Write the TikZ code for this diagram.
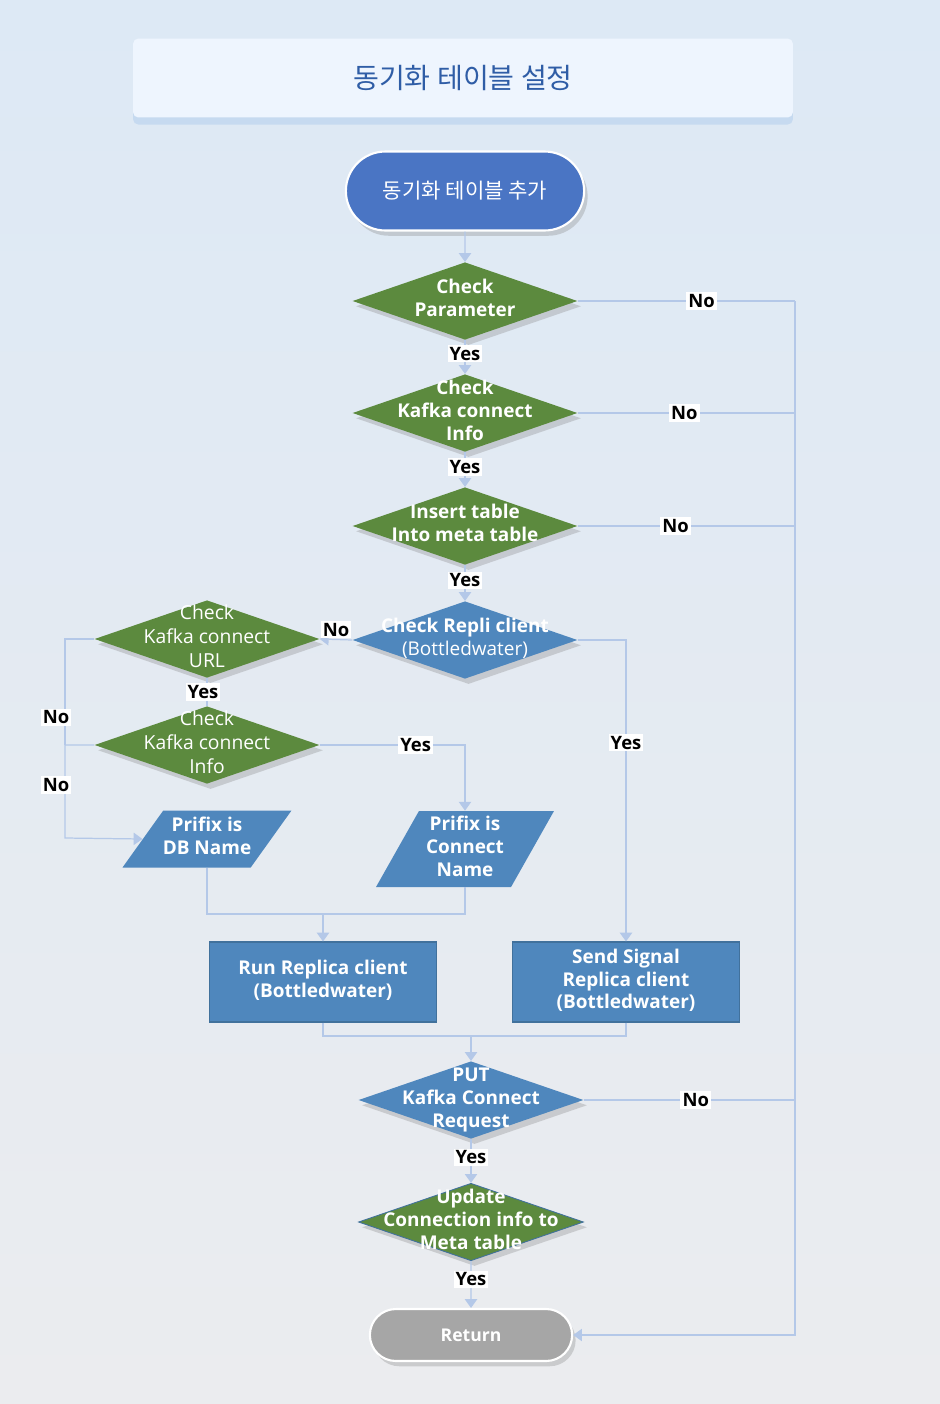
\documentclass[tikz,border=0pt]{standalone}
\usepackage{fontspec}
\setmainfont{Open Sans}
\newfontfamily\kr{Noto Sans CJK KR}
\usetikzlibrary{shapes.geometric, shapes.misc, shadows, arrows.meta}

\definecolor{bgtop}{HTML}{DDE9F5}
\definecolor{bgbot}{HTML}{EBECEF}
\definecolor{flow}{HTML}{B4C8E8}
\definecolor{grn}{HTML}{5C8A3E}
\definecolor{blu}{HTML}{4F87BD}
\definecolor{bluedge}{HTML}{41719C}
\definecolor{startblue}{HTML}{4A75C4}
\definecolor{retgrey}{HTML}{A6A6A6}
\definecolor{titlefill}{HTML}{EEF5FE}
\definecolor{titleshadow}{HTML}{C6DAF0}
\definecolor{titletext}{HTML}{2F5DA6}

% text that may run over the edge of its shape
\newcommand{\dtxt}[1]{\smash{\makebox[0pt]{\raisebox{-2.5pt}{\begin{tabular}{@{}c@{}}#1\end{tabular}}}}}
% same, with a small body so the trapezium can be sized
\newcommand{\ptxt}[1]{\makebox[2pt]{\dtxt{#1}}\phantom{\rule[-1pt]{0pt}{2pt}}}

\begin{document}
\begin{tikzpicture}[x=0.02cm, y=-0.02cm,
    flowline/.style = {draw=flow, line width=0.7pt},
    arr/.style = {flowline, -{Triangle[width=7pt, length=5pt]}},
    lab/.style = {fill=white, text=black, inner sep=1.2pt, font=\bfseries\fontsize{10.5}{12}\selectfont},
    titlebox/.style = {rectangle, rounded corners=3pt, fill=titlefill, minimum width=13.2cm, minimum height=1.58cm, text=titletext, font=\fontsize{16}{19}\selectfont, drop shadow={shadow xshift=0pt, shadow yshift=-4pt, fill=titleshadow, opacity=1}},
    term/.style = {rounded rectangle, draw=white, line width=1.2pt, text=white, drop shadow={shadow xshift=2pt, shadow yshift=-3pt, opacity=.3}},
    dec/.style = {diamond, minimum width=4.5cm, minimum height=1.55cm, inner sep=0pt, text=white, font=\bfseries\fontsize{10.8}{13.2}\selectfont, drop shadow={shadow xshift=2pt, shadow yshift=-3pt, opacity=.3}},
    gdec/.style = {dec, fill=grn},
    bdec/.style = {dec, fill=blu},
    lgdec/.style = {gdec, font=\fontsize{11}{13.5}\selectfont},
    io/.style = {trapezium, trapezium left angle=65, trapezium right angle=115, trapezium stretches=true, inner sep=0pt, fill=blu, text=white, font=\bfseries\fontsize{10.8}{13}\selectfont},
    proc/.style = {rectangle, fill=blu, draw=bluedge, line width=0.6pt, minimum width=4.54cm, minimum height=1.6cm, inner sep=0pt, text=white, font=\bfseries\fontsize{10.8}{12.8}\selectfont}]

    \shade[top color=bgtop, bottom color=bgbot] (0,0) rectangle (940,1404);
    \useasboundingbox (0,0) rectangle (940,1404);

    \node[titlebox] (title) at (463,78) {\kr 동기화 테이블 설정};
    \node[term, fill=startblue, minimum width=5cm, minimum height=1.58cm, font=\fontsize{12}{14}\selectfont] (start) at (465,191) {\kr 동기화 테이블 추가};

    \node[gdec] (par) at (465,301) {\dtxt{Check\\Parameter}};
    \node[gdec] (kinfo) at (465,413) {\dtxt{Check\\Kafka connect\\Info}};
    \node[gdec] (meta) at (465,526) {\dtxt{Insert table\\Into meta table}};
    \node[bdec] (repli) at (465,640) {\dtxt{Check Repli client\\\mdseries(Bottledwater)}};
    \node[lgdec] (kurl) at (207,639) {\dtxt{Check\\Kafka connect\\URL}};
    \node[lgdec] (kinfo2) at (207,745) {\dtxt{Check\\Kafka connect\\Info}};

    \node[io, minimum width=3.38cm, minimum height=1.14cm] (dbname) at (207,839) {\ptxt{Prifix is\\DB Name}};
    \node[io, minimum width=3.56cm, minimum height=1.52cm] (cname) at (465,849) {\ptxt{Prifix is\\Connect\\Name}};

    \node[proc] (run) at (323,982) {\dtxt{Run Replica client\\(Bottledwater)}};
    \node[proc] (signal) at (626,982) {\dtxt{Send Signal\\Replica client\\(Bottledwater)}};

    \node[bdec] (put) at (471,1100) {\dtxt{PUT\\Kafka Connect\\Request}};
    \node[gdec, draw=bluedge, line width=0.5pt] (update) at (471,1222) {\dtxt{Update\\Connection info to\\Meta table}};
    \node[term, fill=retgrey, minimum width=4.28cm, minimum height=1.04cm, font=\bfseries\fontsize{10}{12}\selectfont] (ret) at (471,1335) {Return};

    \coordinate (rb1) at (795,301);
    \coordinate (rb2) at (795,413);
    \coordinate (rb3) at (795,526);
    \coordinate (rb4) at (795,1100);
    \coordinate (rb5) at (795,1335);
    \coordinate (lb1) at (65,639);
    \coordinate (lb2) at (65,745);
    \coordinate (lb3) at (65,838);
    \coordinate (mj1) at (323,914);
    \coordinate (mj2) at (471,1036);

    % main column
    \draw[arr] (start) -- (par);
    \draw[arr] (par) -- node[lab, pos=.4]{Yes} (kinfo);
    \draw[arr] (kinfo) -- node[lab, pos=.42]{Yes} (meta);
    \draw[arr] (meta) -- node[lab, pos=.43]{Yes} (repli);
    \draw[arr] (repli.west) -- node[lab, yshift=.2cm]{No} (kurl.east);
    \draw[flowline] (kurl.south) -- node[lab, xshift=-.08cm]{Yes} (kinfo2.north);

    % left bus
    \draw[flowline] (kurl.west) -- (lb1) -- node[lab, pos=.74, xshift=-.18cm]{No} (lb2);
    \draw[arr] (kinfo2.west) -- (lb2) -- node[lab, pos=.43, xshift=-.18cm]{No} (lb3) -- (dbname.west);

    \draw[arr] (kinfo2.east) -| node[lab, pos=.33]{Yes} (cname.center |- cname.north);
    \draw[arr] (repli.east) -| node[lab, pos=.67]{Yes} (signal.north);

    \draw[flowline] (dbname.south) |- (mj1);
    \draw[flowline] (cname.south) |- (mj1);
    \draw[arr] (mj1) -- (run.north);
    \draw[flowline] (run.south) |- (mj2);
    \draw[flowline] (signal.south) |- (mj2);
    \draw[arr] (mj2) -- (put.north);

    \draw[arr] (put) -- node[lab, pos=.42]{Yes} (update);
    \draw[arr] (update) -- node[lab, pos=.39]{Yes} (ret);

    % right bus
    \draw[flowline] (par.east) -- node[lab, pos=.57]{No} (rb1);
    \draw[flowline] (kinfo.east) -- node[lab, pos=.49]{No} (rb2);
    \draw[flowline] (meta.east) -- node[lab, pos=.45]{No} (rb3);
    \draw[flowline] (put.east) -- node[lab, pos=.53]{No} (rb4);
    \draw[arr] (rb1) -- (rb5) -- (ret.east);
\end{tikzpicture}
\end{document}
